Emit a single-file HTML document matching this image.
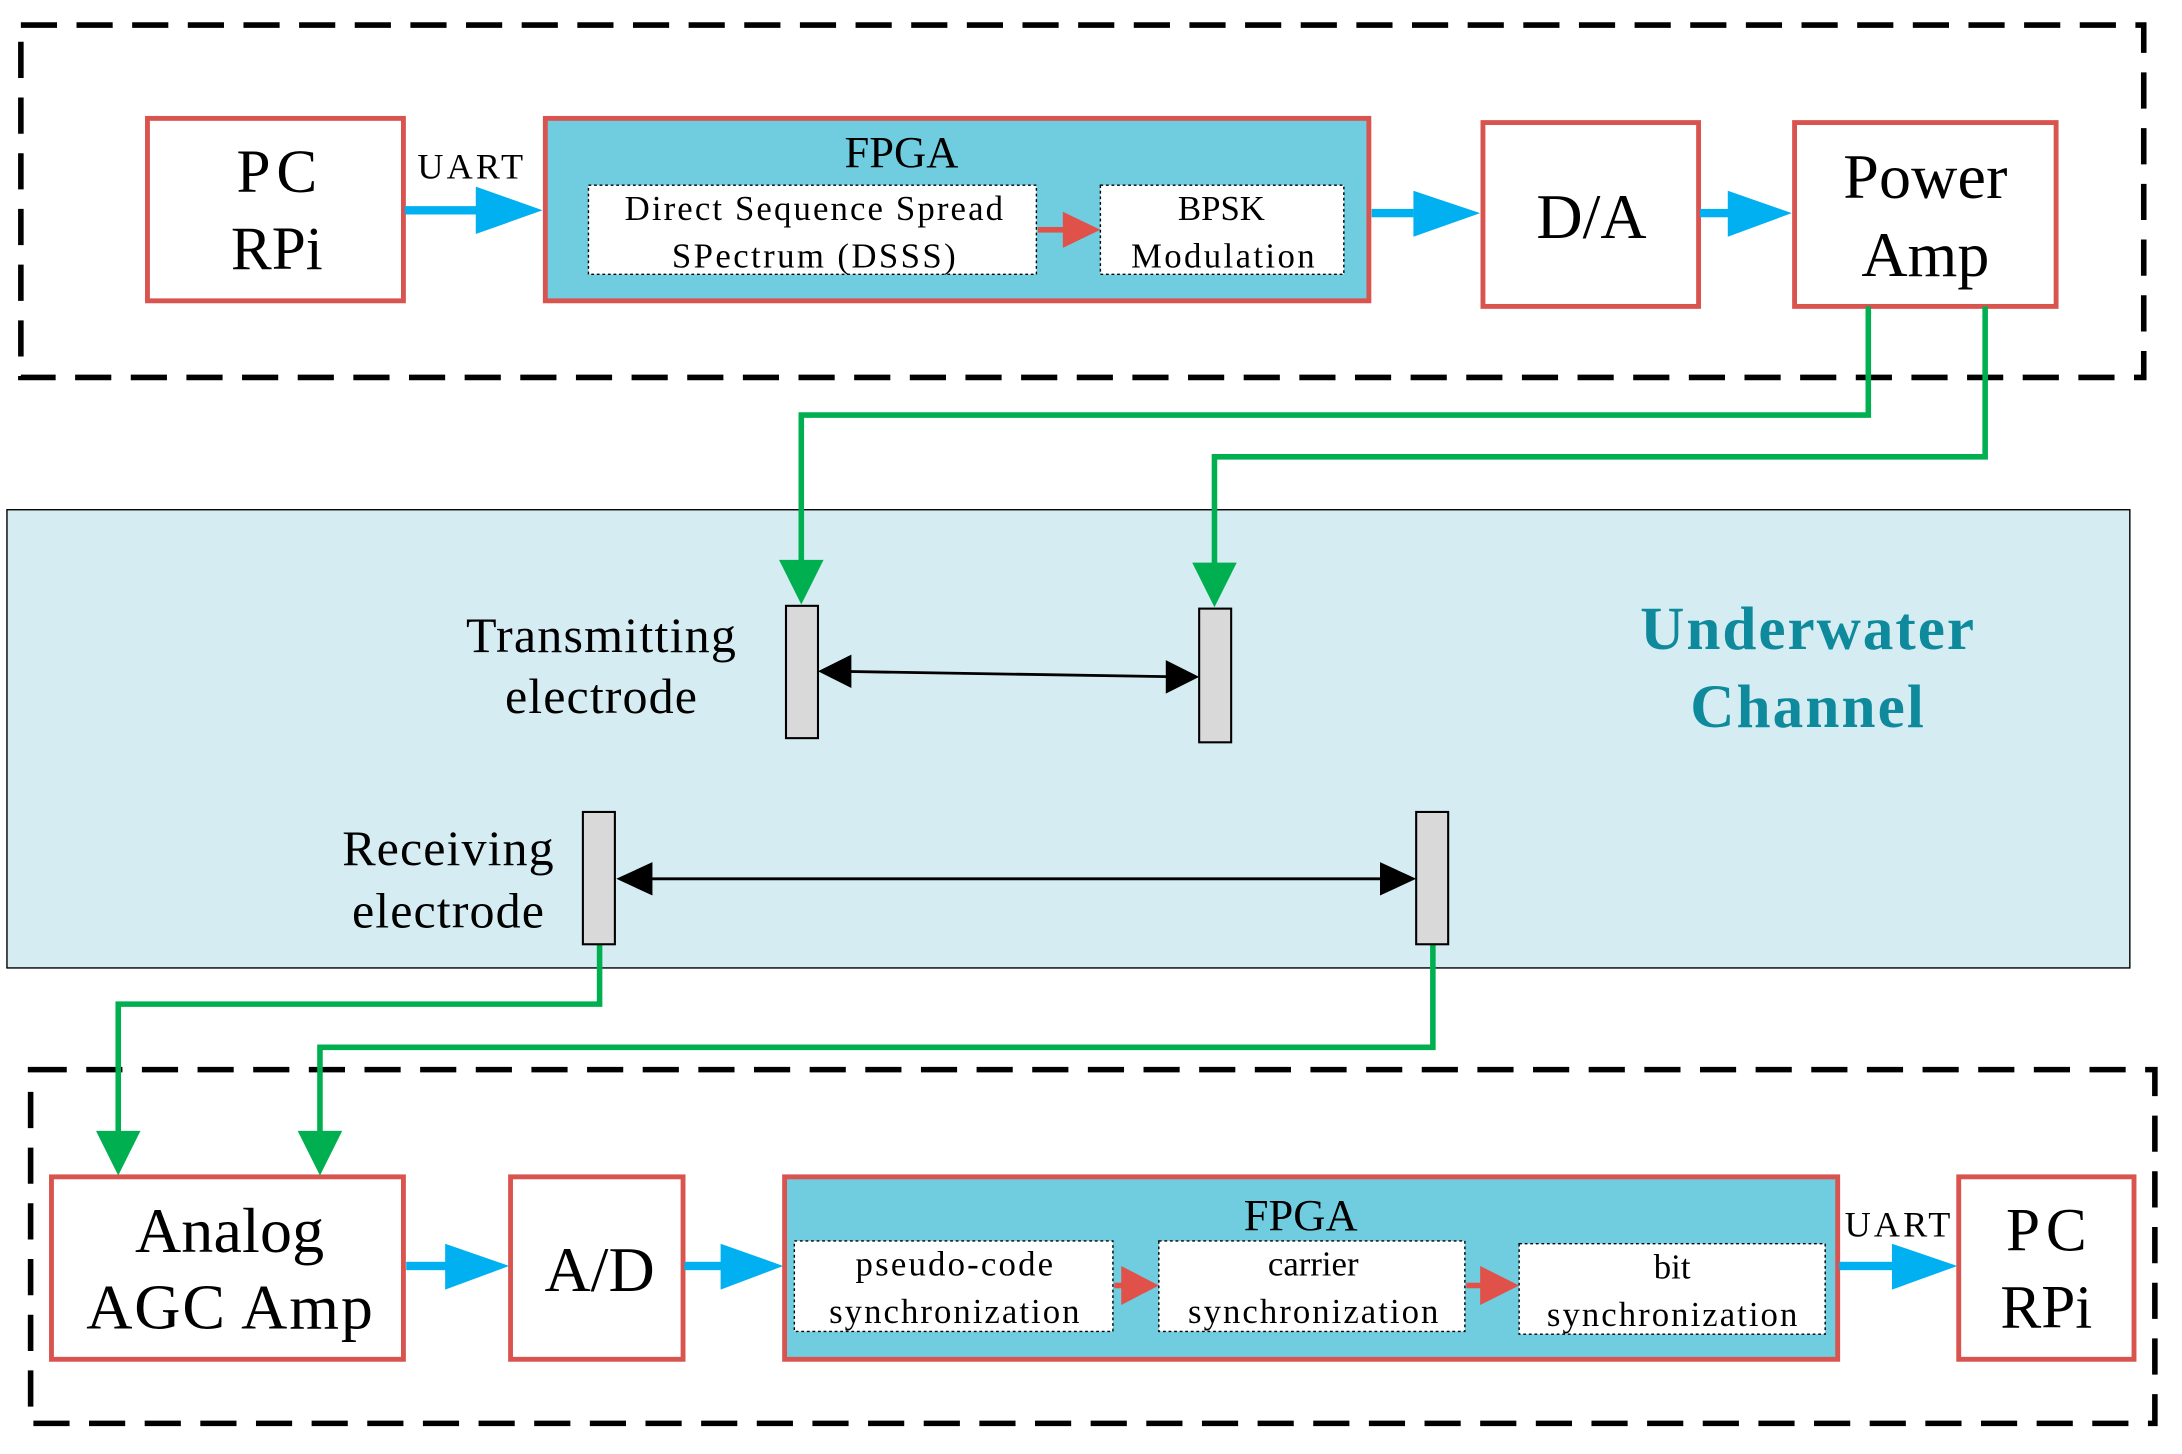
<!DOCTYPE html>
<html><head><meta charset="utf-8"><style>html,body{margin:0;padding:0;background:#fff}svg{display:block}</style></head>
<body>
<svg width="2182" height="1454" viewBox="0 0 1568.5 1044" preserveAspectRatio="none" xmlns="http://www.w3.org/2000/svg" font-family="'Liberation Serif', serif">
<rect width="1568.5" height="1044" fill="#fff"/>
<rect x="15" y="18" width="1526" height="253" fill="none" stroke="#000" stroke-width="4" stroke-dasharray="26,14"/>
<rect x="22" y="768" width="1527" height="254" fill="none" stroke="#000" stroke-width="4" stroke-dasharray="26,14"/>
<rect x="5" y="366" width="1526" height="329" fill="#d5edf2" stroke="#000" stroke-width="1"/>
<g stroke="#d9534f" stroke-width="3.5" fill="#fff">
<rect x="106" y="85" width="184" height="131"/>
<rect x="392" y="85" width="592" height="131" fill="#70cde0"/>
<rect x="1066" y="88" width="155" height="132"/>
<rect x="1290" y="88" width="188" height="132"/>
<rect x="37" y="845" width="253" height="131"/>
<rect x="367" y="845" width="124" height="131"/>
<rect x="564" y="845" width="757" height="131" fill="#70cde0"/>
<rect x="1408" y="845" width="126" height="131"/>
</g>
<g fill="#fff" stroke="#000" stroke-width="1" stroke-dasharray="2,2">
<rect x="423" y="133" width="322" height="64"/>
<rect x="791" y="133" width="175" height="64"/>
<rect x="571" y="891" width="229" height="65"/>
<rect x="833" y="891" width="220" height="65"/>
<rect x="1092" y="893" width="220" height="65"/>
</g>
<g fill="#00b0f0">
<rect x="291" y="148" width="55" height="6"/><path d="M342,134L390,151L342,168z"/>
<rect x="986" y="150" width="30" height="6"/><path d="M1016,137L1064,153L1016,170z"/>
<rect x="1222" y="150" width="22" height="6"/><path d="M1242,137L1288,153L1242,170z"/>
<rect x="292" y="906" width="30" height="6"/><path d="M320,893L366,909L320,926z"/>
<rect x="492" y="906" width="27" height="6"/><path d="M518,893L563,909L518,926z"/>
<rect x="1322" y="906" width="42" height="6"/><path d="M1360,893L1407,909L1360,926z"/>
</g>
<g fill="#e0514a">
<rect x="746" y="163" width="20" height="4"/><path d="M764,152L791,165L764,178z"/>
<rect x="801" y="921" width="8" height="4"/><path d="M806,909L833,923L806,937z"/>
<rect x="1054" y="921" width="13" height="4"/><path d="M1064,909L1092,923L1064,937z"/>
</g>
<g fill="none" stroke="#00b050" stroke-width="4">
<polyline points="1343,220 1343,298 576,298 576,408"/>
<polyline points="1427,220 1427,328 873,328 873,408"/>
<polyline points="431,678 431,721 85,721 85,818"/>
<polyline points="1030,678 1030,752 230,752 230,818"/>
</g>
<g fill="#00b050">
<path d="M560,402L592,402L576,434z"/>
<path d="M857,404L889,404L873,436z"/>
<path d="M69,812L101,812L85,844z"/>
<path d="M214,812L246,812L230,844z"/>
</g>
<g fill="#d9d9d9" stroke="#000" stroke-width="1.5">
<rect x="565" y="435" width="23" height="95"/>
<rect x="862" y="437" width="23" height="96"/>
<rect x="419" y="583" width="23" height="95"/>
<rect x="1018" y="583" width="23" height="95"/>
</g>
<g stroke="#000" stroke-width="2">
<line x1="600" y1="482" x2="850" y2="486"/>
<line x1="455" y1="631" x2="1006" y2="631"/>
</g>
<g fill="#000">
<path d="M588,482L612,470L612,494z"/>
<path d="M862,486L838,474L838,498z"/>
<path d="M443,631L469,619L469,643z"/>
<path d="M1018,631L992,619L992,643z"/>
</g>
<g fill="#000" text-anchor="middle">
<text x="199" y="138" font-size="44" textLength="58">PC</text>
<text x="199" y="193" font-size="44">RPi</text>
<text x="338" y="128" font-size="26" textLength="76">UART</text>
<text x="648" y="120" font-size="32">FPGA</text>
<text x="585" y="158" font-size="25" textLength="272">Direct Sequence Spread</text>
<text x="585" y="192" font-size="25" textLength="204">SPectrum (DSSS)</text>
<text x="878" y="158" font-size="25">BPSK</text>
<text x="879" y="192" font-size="25" textLength="132">Modulation</text>
<text x="1144" y="171" font-size="46">D/A</text>
<text x="1384" y="142" font-size="46" textLength="118">Power</text>
<text x="1384" y="198" font-size="46">Amp</text>
<text x="432" y="468" font-size="36" textLength="194">Transmitting</text>
<text x="432" y="512" font-size="36" textLength="138">electrode</text>
<text x="322" y="621" font-size="36" textLength="152">Receiving</text>
<text x="322" y="666" font-size="36" textLength="138">electrode</text>
<text x="1299" y="466" font-size="44" font-weight="bold" fill="#0e8a9c" textLength="240">Underwater</text>
<text x="1299" y="522" font-size="44" font-weight="bold" fill="#0e8a9c" textLength="168">Channel</text>
<text x="165" y="899" font-size="46" textLength="136">Analog</text>
<text x="165" y="954" font-size="46" textLength="206">AGC Amp</text>
<text x="431" y="927" font-size="46">A/D</text>
<text x="935" y="883" font-size="32">FPGA</text>
<text x="686" y="916" font-size="25" textLength="142">pseudo-code</text>
<text x="686" y="950" font-size="25" textLength="180">synchronization</text>
<text x="944" y="916" font-size="25">carrier</text>
<text x="944" y="950" font-size="25" textLength="180">synchronization</text>
<text x="1202" y="918" font-size="25">bit</text>
<text x="1202" y="952" font-size="25" textLength="180">synchronization</text>
<text x="1364" y="888" font-size="26" textLength="76">UART</text>
<text x="1471" y="898" font-size="44" textLength="58">PC</text>
<text x="1471" y="953" font-size="44">RPi</text>
</g>
</svg>
</body></html>
